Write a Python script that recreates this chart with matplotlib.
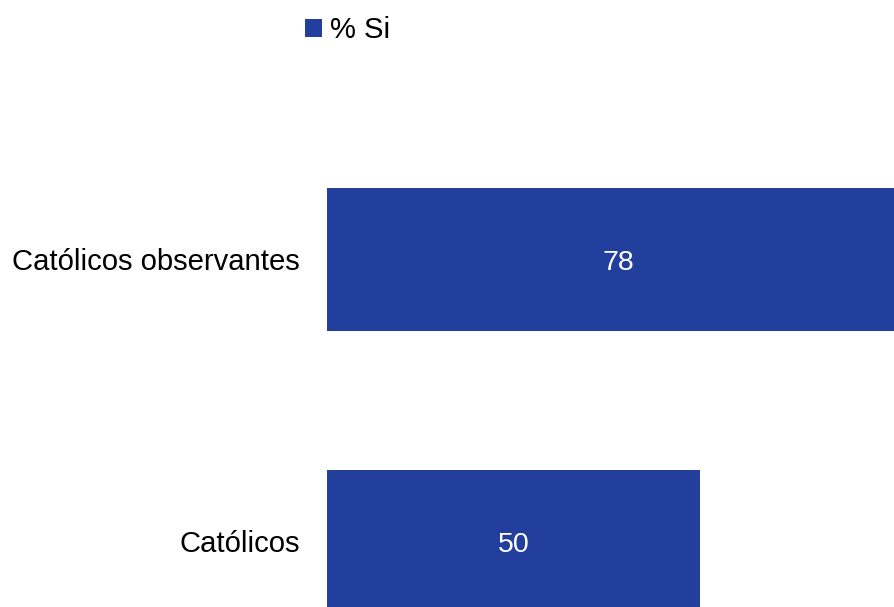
import matplotlib.pyplot as plt

# Data
categories = ['Católicos', 'Católicos observantes']
si_values = [50, 78]
series_name = '% Si'

plt.rcParams['font.family'] = ['Liberation Sans', 'DejaVu Sans']

W, H = 895, 607
fig = plt.figure(figsize=(W / 100, H / 100), dpi=100)
ax = fig.add_axes([327 / W, 0, 1 - 327 / W, 1])

color = '#233F9E'
pos = list(range(len(categories)))
bars = ax.barh(pos, si_values, height=0.507, color=color, label=series_name)

for p, v in zip(pos, si_values):
    ax.text(v / 2, p, str(v), ha='center', va='center_baseline', color='white', fontsize=20.5)

ax.set_xlim(0, 568 / 7.46)
ax.set_ylim(-65.5 / 282, 1 + (607 - 347.5) / 282)
ax.set_yticks(pos)
ax.set_yticklabels(categories, fontsize=21.1)
ax.tick_params(axis='y', length=0, pad=19.4)
ax.set_xticks([])
for s in ax.spines.values():
    s.set_visible(False)

fig.legend(handles=[bars], labels=[series_name], loc='center',
           bbox_to_anchor=(348 / W, 1 - 30 / H), frameon=False, fontsize=21.1,
           handlelength=0.58, handleheight=0.58, handletextpad=0.27,
           borderpad=0, borderaxespad=0)

plt.savefig('out.png', dpi=100)
